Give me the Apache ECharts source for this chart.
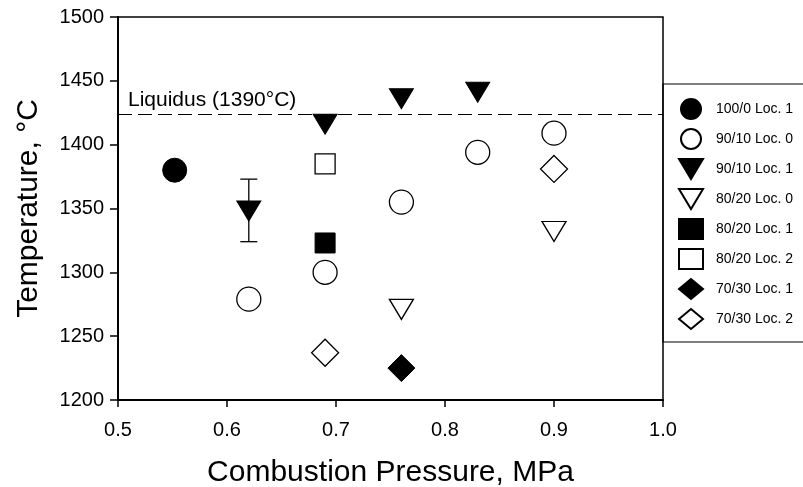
<!DOCTYPE html>
<html><head><meta charset="utf-8">
<script src="https://cdn.jsdelivr.net/npm/echarts@6/dist/echarts.min.js"></script>
<style>html,body{margin:0;padding:0;background:#fff}#c{width:803px;height:487px}</style>
</head><body><div id="c"></div>
<script>
const xTicks = [0.5, 0.6, 0.7, 0.8, 0.9, 1.0];
const yTicks = [1200, 1250, 1300, 1350, 1400, 1450, 1500];
const liquidusLine = 1424;
const liquidusLabel = 'Liquidus (1390°C)';
const seriesNames = ['100/0 Loc. 1','90/10 Loc. 0','90/10 Loc. 1','80/20 Loc. 0','80/20 Loc. 1','80/20 Loc. 2','70/30 Loc. 1','70/30 Loc. 2'];
const s100_0_loc1 = [[0.552, 1380]];
const s90_10_loc0 = [[0.62, 1279], [0.69, 1300], [0.76, 1355], [0.83, 1394], [0.90, 1409]];
const s90_10_loc1 = [[0.62, 1348], [0.69, 1416], [0.76, 1436], [0.83, 1441]];
const s80_20_loc0 = [[0.76, 1271], [0.90, 1332]];
const s80_20_loc1 = [[0.69, 1323]];
const s80_20_loc2 = [[0.69, 1385]];
const s70_30_loc1 = [[0.76, 1225]];
const s70_30_loc2 = [[0.69, 1237], [0.90, 1381]];
const errorBars = [[0.62, 1324, 1373]];

const TRI = 'path://M0,0L24,0L12,20Z';
const filled = {color:'#000', borderColor:'#000', borderWidth:1, opacity:1};
const hollow = {color:'#fff', borderColor:'#000', borderWidth:1.3, opacity:1};
const styles = [
  {data:s100_0_loc1, symbol:'circle', size:24, it:filled},
  {data:s90_10_loc0, symbol:'circle', size:24, it:hollow},
  {data:s90_10_loc1, symbol:TRI, size:[24,20], it:filled},
  {data:s80_20_loc0, symbol:TRI, size:[24,20], it:hollow},
  {data:s80_20_loc1, symbol:'rect', size:20, it:filled},
  {data:s80_20_loc2, symbol:'rect', size:20, it:hollow},
  {data:s70_30_loc1, symbol:'diamond', size:27, it:filled},
  {data:s70_30_loc2, symbol:'diamond', size:27, it:hollow}
];

const series = [];
series.push({
  type:'custom', name:'errbar', z:1,
  data: errorBars,
  renderItem: function(params, api){
    const x = api.value(0);
    const lo = api.coord([x, api.value(1)]);
    const hi = api.coord([x, api.value(2)]);
    const w = 8.5;
    const st = {stroke:'#000', lineWidth:1.3};
    return {type:'group', children:[
      {type:'line', shape:{x1:lo[0],y1:lo[1],x2:hi[0],y2:hi[1]}, style:st},
      {type:'line', shape:{x1:lo[0]-w,y1:lo[1],x2:lo[0]+w,y2:lo[1]}, style:st},
      {type:'line', shape:{x1:hi[0]-w,y1:hi[1],x2:hi[0]+w,y2:hi[1]}, style:st}
    ]};
  },
  silent:true
});
styles.forEach((s,i)=>{
  const o = {type:'scatter', name:seriesNames[i], data:s.data, symbol:s.symbol, symbolSize:s.size, itemStyle:s.it, z:3, animation:false,
    emphasis:{disabled:true}};
  if(i===0){
    o.markLine = {silent:true, symbol:'none', animation:false,
      lineStyle:{color:'#000', type:[14,6], width:1.2, opacity:1},
      label:{show:true, position:'insideStartTop', formatter:liquidusLabel, color:'#000', fontSize:21, fontFamily:'Liberation Sans, Arial', distance:[10,3]},
      data:[{yAxis:liquidusLine}]};
  }
  series.push(o);
});

const chart = echarts.init(document.getElementById('c'), null, {renderer:'canvas'});
chart.setOption({
  animation:false,
  textStyle:{fontFamily:'Liberation Sans, Arial, sans-serif', color:'#000'},
  grid:{left:118, right:140, top:17, bottom:87, show:true, borderColor:'#000', borderWidth:1.5, backgroundColor:'transparent',
        containLabel:false, outerBoundsMode:'none'},
  legend:{
    orient:'vertical', left:663, top:84,
    padding:[14,200,12,15],
    borderColor:'#000', borderWidth:1.2,
    itemWidth:24, itemHeight:20, itemGap:8,
    textStyle:{fontSize:14, color:'#000', padding:[0,0,0,8]},
    data:seriesNames,
    selectedMode:false
  },
  xAxis:{
    type:'value', min:xTicks[0], max:xTicks[xTicks.length-1], interval:0.1,
    name:'Combustion Pressure, MPa', nameLocation:'middle', nameGap:58,
    nameTextStyle:{fontSize:30, color:'#000'},
    axisLine:{show:true, onZero:false, lineStyle:{color:'#000', width:2}},
    axisTick:{show:true, inside:false, length:7, lineStyle:{color:'#000', width:1.5}},
    axisLabel:{fontSize:20, color:'#000', margin:20, formatter:v=>v.toFixed(1)},
    splitLine:{show:false}
  },
  yAxis:{
    type:'value', min:yTicks[0], max:yTicks[yTicks.length-1], interval:50,
    name:'Temperature, °C', nameLocation:'middle', nameGap:74,
    nameTextStyle:{fontSize:30, color:'#000'},
    axisLine:{show:true, onZero:false, lineStyle:{color:'#000', width:2}},
    axisTick:{show:true, inside:false, length:8, lineStyle:{color:'#000', width:1.5}},
    axisLabel:{fontSize:20, color:'#000', margin:14, formatter:v=>String(v)},
    splitLine:{show:false}
  },
  series:series
});
</script></body></html>
